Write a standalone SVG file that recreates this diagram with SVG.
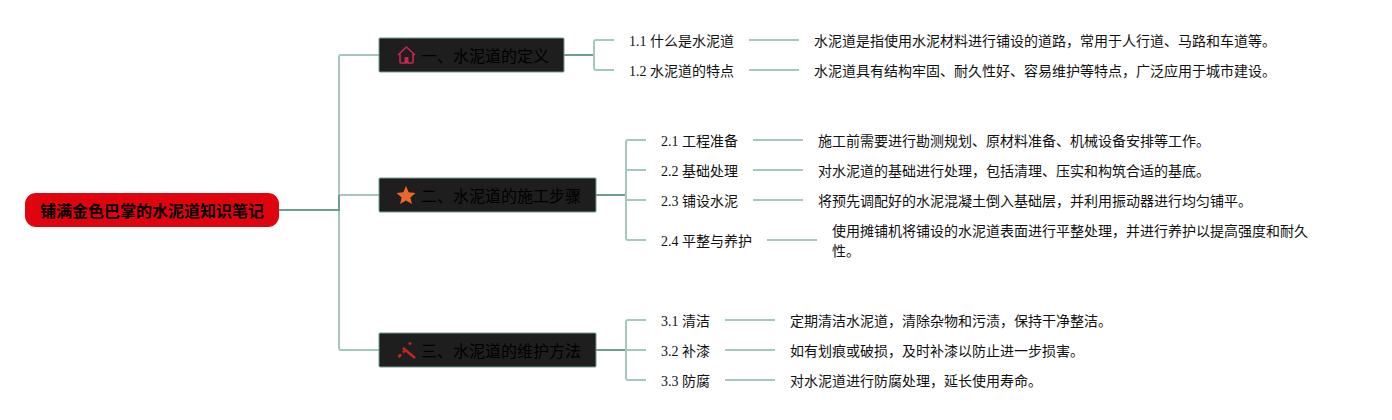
<svg xmlns="http://www.w3.org/2000/svg" width="1392" height="420" viewBox="0 0 1392 420">
<style>
text{font-family:"Liberation Serif","Noto Sans CJK SC",serif;fill:#111;font-size:14px;dominant-baseline:central}
.r{font-size:16px;font-weight:bold;fill:#000}
.b{font-size:16px;fill:#000}
.n{fill:#1e1e1e;stroke:#6f9e90;stroke-width:1}
.c{fill:none;stroke:#a4c8bc;stroke-width:2}
.t{fill:none;stroke:#6f9e90;stroke-width:2}
</style>
<rect width="1392" height="420" fill="#fff"/>
<g id="connectors">
<path class="c" d="M379 55H341Q339 55 339 57V348Q339 350 341 350H379"/>
<path class="c" d="M339 195H379"/>
<path class="t" d="M279 210H339M339 195V211"/>
<path class="t" d="M564 55H594"/>
<path class="c" d="M614 40H596Q594 40 594 42V68Q594 70 596 70H614"/>
<path class="t" d="M596 195H626"/>
<path class="c" d="M646 140H628Q626 140 626 142V238Q626 240 628 240H646M626 170H646M626 200H646"/>
<path class="t" d="M596 350H626"/>
<path class="c" d="M646 320H628Q626 320 626 322V378Q626 380 628 380H646M626 350H646"/>
<path class="c" d="M749 40H799M749 70H799M753 140H803M753 170H803M753 200H803M767 240H817M725 320H775M725 350H775M725 380H775"/>
</g>
<g id="root"><rect x="25" y="193" width="254" height="34" rx="11" fill="#e0040f"/><text class="r" x="40" y="211">铺满金色巴掌的水泥道知识笔记</text></g>
<g id="b1"><rect class="n" x="379" y="38" width="185" height="34" rx="1"/>
<path d="M398 55L406.500 47L415 55M400 54V62Q400 63 401 63H412Q413 63 413 62V54" fill="none" stroke="#c8264f" stroke-width="1.600"/><path d="M404.500 63V58Q404.500 57 405.500 57H407.500Q408.500 57 408.500 58V63Z" fill="#c8264f"/>
<text class="b" x="421" y="56">一、水泥道的定义</text></g>
<g id="b2"><rect class="n" x="379" y="178" width="217" height="34" rx="1"/>
<path d="M406 186L408.700 192.300L415.500 192.900L410.400 197.400L411.900 204L406 200.500L400.100 204L401.600 197.400L396.500 192.900L403.300 192.300Z" fill="#e8682c"/>
<text class="b" x="421" y="196">二、水泥道的施工步骤</text></g>
<g id="b3"><rect class="n" x="379" y="333" width="217" height="34" rx="1"/>
<path d="M403 348L415 358" fill="none" stroke="#c2281f" stroke-width="2.500"/><path d="M398.500 357L401 354.500M403 352.500L405 350.500" fill="none" stroke="#c2281f" stroke-width="2.500"/><circle cx="410" cy="343.500" r="1.500" fill="#c2281f"/>
<text class="b" x="421" y="351">三、水泥道的维护方法</text></g>
<g id="n11"><text x="629" y="41">1.1 什么是水泥道</text></g>
<g id="n12"><text x="629" y="71">1.2 水泥道的特点</text></g>
<g id="d11"><text x="814" y="41">水泥道是指使用水泥材料进行铺设的道路，常用于人行道、马路和车道等。</text></g>
<g id="d12"><text x="814" y="71">水泥道具有结构牢固、耐久性好、容易维护等特点，广泛应用于城市建设。</text></g>
<g id="n21"><text x="661" y="141">2.1 工程准备</text></g>
<g id="n22"><text x="661" y="171">2.2 基础处理</text></g>
<g id="n23"><text x="661" y="201">2.3 铺设水泥</text></g>
<g id="n24"><text x="661" y="241">2.4 平整与养护</text></g>
<g id="d21"><text x="818" y="141">施工前需要进行勘测规划、原材料准备、机械设备安排等工作。</text></g>
<g id="d22"><text x="818" y="171">对水泥道的基础进行处理，包括清理、压实和构筑合适的基底。</text></g>
<g id="d23"><text x="818" y="201">将预先调配好的水泥混凝土倒入基础层，并利用振动器进行均匀铺平。</text></g>
<g id="d24"><text x="832" y="231">使用摊铺机将铺设的水泥道表面进行平整处理，并进行养护以提高强度和耐久</text><text x="832" y="251">性。</text></g>
<g id="n31"><text x="661" y="321">3.1 清洁</text></g>
<g id="n32"><text x="661" y="351">3.2 补漆</text></g>
<g id="n33"><text x="661" y="381">3.3 防腐</text></g>
<g id="d31"><text x="790" y="321">定期清洁水泥道，清除杂物和污渍，保持干净整洁。</text></g>
<g id="d32"><text x="790" y="351">如有划痕或破损，及时补漆以防止进一步损害。</text></g>
<g id="d33"><text x="790" y="381">对水泥道进行防腐处理，延长使用寿命。</text></g>
</svg>
